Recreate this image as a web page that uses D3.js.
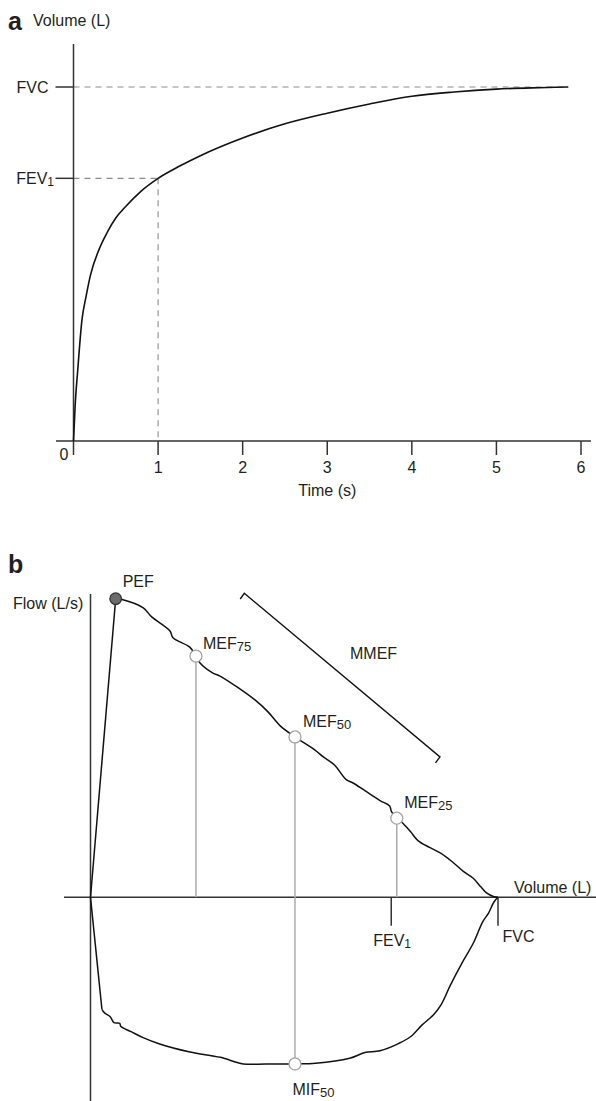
<!DOCTYPE html>
<html><head><meta charset="utf-8">
<script src="https://cdn.jsdelivr.net/npm/d3@7"></script>
<style>
body{margin:0;background:#fff}
svg{display:block}
text{font-family:"Liberation Sans",Arial,Helvetica,sans-serif;fill:#231f20}
</style>
</head><body>
<svg id="chart" width="596" height="1101"></svg>
<script>
// ---------- Panel a: volume-time spirogram ----------
const timeTicks = [0, 1, 2, 3, 4, 5, 6];
const spiroTime = [0, 0.02, 0.05, 0.1, 0.15, 0.2, 0.3, 0.4, 0.5, 0.6, 0.8, 1.0, 1.25, 1.5, 2, 2.5, 3, 3.5, 4, 4.5, 5, 5.5, 5.85];
const spiroVol  = [0, 0.51, 1.0, 1.71, 2.05, 2.34, 2.70, 2.95, 3.15, 3.29, 3.53, 3.71, 3.88, 4.03, 4.28, 4.48, 4.63, 4.76, 4.87, 4.93, 4.97, 4.99, 5.0];
const volTickNames = ["FVC", "FEV"];
const volTickSubs  = ["", "1"];
const volTickValues = [5.0, 3.71];
const fev1Time = 1;

// ---------- Panel b: flow-volume loop ----------
// rising limb (origin -> PEF), drawn straight
const riseVol  = [0, 0.055, 0.125, 0.199, 0.309];
const riseFlow = [0, 1.92, 4.93, 7.61, 10.0];
// descending expiratory limb (PEF -> FVC)
const expVol  = [0.309, 0.387, 0.648, 0.751, 0.975, 1.012, 1.221, 1.294, 1.344, 1.503, 1.589, 2.018, 2.178, 2.325, 2.509, 2.755, 2.853, 2.994, 3.134, 3.227, 3.367, 3.552, 3.670, 3.693, 3.758, 3.833, 3.926, 4.018, 4.160, 4.301, 4.439, 4.579, 4.696, 4.789, 4.859, 4.951, 5.0];
const expFlow = [10.0, 9.97, 9.69, 9.39, 8.92, 8.69, 8.37, 8.08, 7.85, 7.51, 7.41, 6.61, 6.21, 5.75, 5.37, 4.93, 4.71, 4.43, 3.95, 3.82, 3.57, 3.24, 3.06, 2.87, 2.65, 2.48, 2.20, 1.90, 1.67, 1.47, 1.19, 0.86, 0.64, 0.35, 0.15, 0.02, 0];
// inspiratory limb: straight drop, then curved
const dropVol  = [0, 0.140];
const dropFlow = [0, -3.75];
const inspVol  = [0.140, 0.172, 0.242, 0.288, 0.358, 0.373, 0.498, 0.638, 0.848, 1.221, 1.594, 1.875, 2.153, 2.513, 2.761, 3.180, 3.367, 3.552, 3.785, 3.926, 4.066, 4.206, 4.299, 4.416, 4.556, 4.696, 4.812, 4.882, 4.952, 5.0];
const inspFlow = [-3.75, -3.87, -4.00, -4.20, -4.22, -4.33, -4.50, -4.69, -4.91, -5.18, -5.36, -5.58, -5.58, -5.58, -5.56, -5.39, -5.20, -5.14, -4.89, -4.67, -4.28, -3.94, -3.61, -2.94, -2.21, -1.54, -0.82, -0.54, -0.15, 0];
const markerNames = ["PEF", "MEF", "MEF", "MEF", "MIF"];
const markerSubs  = ["", "75", "50", "25", "50"];
const markerVol   = [0.309, 1.294, 2.509, 3.758, 2.509];
const markerFlow  = [10.0, 8.08, 5.37, 2.65, -5.58];
const volMarkNames = ["FEV", "FVC"];
const volMarkSubs  = ["1", ""];
const volMarkValues = [3.69, 5.0];
const mmefVol  = [1.837, 1.887, 4.288, 4.233];
const mmefFlow = [9.99, 10.18, 4.70, 4.50];

const svg = d3.select("#chart");

// ===== Panel a =====
const xA = d3.scaleLinear().domain([0, 6]).range([73.5, 581]);
const yA = d3.scaleLinear().domain([0, 5]).range([441, 87]);
const gA = svg.append("g");

gA.append("text").attr("x", 8).attr("y", 30).attr("font-size", 25).attr("font-weight", "bold").text("a");
gA.append("text").attr("x", 33).attr("y", 26).attr("font-size", 16).text("Volume (L)");

// dashed guides
const dash = "6,5";
const dashColor = "#8c8c8c";
gA.append("line").attr("x1", xA(0)).attr("x2", xA(d3.max(spiroTime)))
  .attr("y1", yA(volTickValues[0])).attr("y2", yA(volTickValues[0]))
  .attr("stroke", dashColor).attr("stroke-width", 1.1).attr("stroke-dasharray", dash);
gA.append("line").attr("x1", xA(0)).attr("x2", xA(fev1Time))
  .attr("y1", yA(volTickValues[1])).attr("y2", yA(volTickValues[1]))
  .attr("stroke", dashColor).attr("stroke-width", 1.1).attr("stroke-dasharray", dash);
gA.append("line").attr("x1", xA(fev1Time)).attr("x2", xA(fev1Time))
  .attr("y1", yA(volTickValues[1])).attr("y2", yA(0))
  .attr("stroke", dashColor).attr("stroke-width", 1.1).attr("stroke-dasharray", dash);

// axes
gA.append("line").attr("x1", xA(0)).attr("x2", xA(0)).attr("y1", 44).attr("y2", yA(0))
  .attr("stroke", "#333").attr("stroke-width", 1.5);
gA.append("line").attr("x1", 56).attr("x2", 591).attr("y1", yA(0)).attr("y2", yA(0))
  .attr("stroke", "#333").attr("stroke-width", 1.5);
timeTicks.forEach(t => {
  gA.append("line").attr("x1", xA(t)).attr("x2", xA(t)).attr("y1", yA(0)).attr("y2", yA(0) + 14)
    .attr("stroke", "#333").attr("stroke-width", 1.5);
  const lbl = gA.append("text").attr("font-size", 16).attr("text-anchor", "middle").text(t);
  if (t === 0) lbl.attr("x", xA(t) - 9.5).attr("y", 460);
  else lbl.attr("x", xA(t)).attr("y", 473);
});
gA.append("text").attr("x", (xA(0) + xA(6)) / 2).attr("y", 496).attr("font-size", 16)
  .attr("text-anchor", "middle").text("Time (s)");

volTickValues.forEach((v, i) => {
  gA.append("line").attr("x1", 55.5).attr("x2", xA(0)).attr("y1", yA(v)).attr("y2", yA(v))
    .attr("stroke", "#333").attr("stroke-width", 1.5);
  const t = gA.append("text").attr("font-size", 16).attr("text-anchor", "end")
    .attr("x", i === 0 ? 48.5 : 54).attr("y", yA(v) + 5.5);
  t.append("tspan").text(volTickNames[i]);
  if (volTickSubs[i]) t.append("tspan").attr("font-size", 12).attr("dy", 2).text(volTickSubs[i]);
});

const lineA = d3.line().x((d, i) => xA(spiroTime[i])).y((d, i) => yA(spiroVol[i])).curve(d3.curveMonotoneX);
gA.append("path").attr("d", lineA(spiroTime)).attr("fill", "none").attr("stroke", "#111").attr("stroke-width", 1.6);

// ===== Panel b =====
const xB = d3.scaleLinear().domain([0, 5]).range([90.5, 498]);
const yB = d3.scaleLinear().domain([0, 10]).range([897.3, 598.7]);
const gB = svg.append("g");

gB.append("text").attr("x", 8).attr("y", 573).attr("font-size", 25).attr("font-weight", "bold").text("b");
gB.append("text").attr("x", 13).attr("y", 609).attr("font-size", 16).text("Flow (L/s)");
gB.append("text").attr("x", 514).attr("y", 893).attr("font-size", 16).text("Volume (L)");

// axes
gB.append("line").attr("x1", xB(0)).attr("x2", xB(0)).attr("y1", 594).attr("y2", 1101)
  .attr("stroke", "#333").attr("stroke-width", 1.5);
gB.append("line").attr("x1", 64).attr("x2", 596).attr("y1", yB(0)).attr("y2", yB(0))
  .attr("stroke", "#333").attr("stroke-width", 1.5);

// gray guide lines
const gray = "#adadad";
[[1, null], [2, 4], [3, null]].forEach(([a, b]) => {
  gB.append("line").attr("x1", xB(markerVol[a])).attr("x2", xB(markerVol[a]))
    .attr("y1", yB(markerFlow[a])).attr("y2", b === null ? yB(0) : yB(markerFlow[b]))
    .attr("stroke", gray).attr("stroke-width", 1.5);
});

// volume ticks
volMarkValues.forEach((v, i) => {
  gB.append("line").attr("x1", xB(v)).attr("x2", xB(v)).attr("y1", yB(0)).attr("y2", yB(0) + 28.5)
    .attr("stroke", "#333").attr("stroke-width", 1.5);
  const t = gB.append("text").attr("font-size", 16)
    .attr("x", i === 0 ? xB(v) - 18 : xB(v) + 4.5).attr("y", i === 0 ? 946 : 941.5);
  t.append("tspan").text(volMarkNames[i]);
  if (volMarkSubs[i]) t.append("tspan").attr("font-size", 12).attr("dy", 2).text(volMarkSubs[i]);
});

// loops
const toPts = (vs, fs) => vs.map((v, i) => [xB(v), yB(fs[i])]);
const straight = d3.line();
const smooth = d3.line().curve(d3.curveCatmullRom.alpha(0.5));
const loopStroke = g => g.attr("fill", "none").attr("stroke", "#111").attr("stroke-width", 1.5)
  .attr("stroke-linejoin", "round");
gB.append("path").attr("d", straight([toPts(riseVol, riseFlow)[0], toPts(riseVol, riseFlow)[riseVol.length - 1]])).call(loopStroke);
gB.append("path").attr("d", smooth(toPts(expVol, expFlow))).call(loopStroke);
gB.append("path").attr("d", straight(toPts(dropVol, dropFlow))).call(loopStroke);
gB.append("path").attr("d", smooth(toPts(inspVol, inspFlow))).call(loopStroke);

// MMEF bracket
const bracket = d3.line()(toPts(mmefVol, mmefFlow));
gB.append("path").attr("d", bracket).attr("fill", "none").attr("stroke", "#111").attr("stroke-width", 1.4);
gB.append("text").attr("x", 350).attr("y", 659).attr("font-size", 16).text("MMEF");

// markers
markerVol.forEach((v, i) => {
  gB.append("circle").attr("cx", xB(v)).attr("cy", yB(markerFlow[i])).attr("r", i === 0 ? 5.8 : 6)
    .attr("fill", i === 0 ? "#6b6b6b" : "#fff")
    .attr("stroke", i === 0 ? "#333" : "#a3a3a3").attr("stroke-width", 1.3);
});
// marker labels: offsets from marker positions
const labelDx = [7, 7, 8, 7.5, -2.5];
const labelDy = [-11.7, -7, -10.3, -10.3, 31.5];
markerVol.forEach((v, i) => {
  const t = gB.append("text").attr("font-size", 16)
    .attr("x", xB(v) + labelDx[i]).attr("y", yB(markerFlow[i]) + labelDy[i]);
  t.append("tspan").text(markerNames[i]);
  if (markerSubs[i]) t.append("tspan").attr("font-size", 13).attr("dy", 2).text(markerSubs[i]);
});
</script>
</body></html>
